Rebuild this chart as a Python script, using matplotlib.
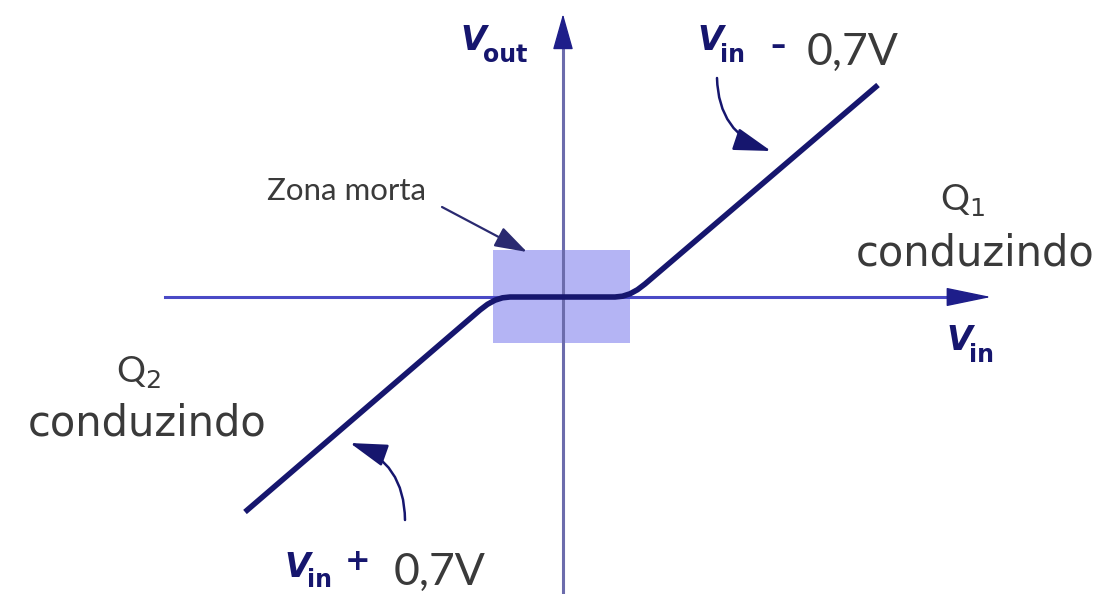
import matplotlib
matplotlib.use("Agg")
import matplotlib.pyplot as plt
from matplotlib.patches import Rectangle, FancyArrowPatch

# ---- data (transfer characteristic, origin at the axes crossing) ----
vin_curve = [-318, -83, -75.5, -68, -60.5, -53, 52, 59.5, 67, 74.5, 82, 315]
vout_curve = [-215, -13, -7.3, -3.2, -0.8, 0, 0, 0.8, 3.2, 7.3, 13, 212]
dead_zone_x = [-70, 67]
dead_zone_y = [-46, 47]

gray_labels = ["Zona morta", "Q$_1$", "conduzindo", "Q$_2$", "conduzindo", "0,7V", "0,7V"]

NAVY = "#16166e"
HEAD = "#1e1e8a"
TXT = "#3a3a3a"
W, H = 1112, 594
OX, OY = 563, 297


def P(px, py):
    return px - OX, OY - py


fig = plt.figure(figsize=(W / 100, H / 100), dpi=100)
ax = fig.add_axes([0, 0, 1, 1])
ax.set_xlim(-OX, W - OX)
ax.set_ylim(OY - H, OY)
ax.axis("off")

# dead zone box
ax.add_patch(Rectangle((dead_zone_x[0], dead_zone_y[0]), dead_zone_x[1] - dead_zone_x[0],
                       dead_zone_y[1] - dead_zone_y[0], facecolor="#b4b4f4",
                       edgecolor="none", zorder=1))

# axes shafts
ax.plot(*zip(P(165, 297), P(955, 297)), color="#4a4ac6", lw=2.2, zorder=2)
ax.plot(*zip(P(563, 594), P(563, 40)), color="#6c6cac", lw=2.2, zorder=2)
# axes heads
ax.annotate("", xy=P(991, 297), xytext=P(950, 297),
            arrowprops=dict(arrowstyle="-|>,head_length=2.9,head_width=0.6",
                            mutation_scale=10, color=HEAD, lw=1.0,
                            shrinkA=0, shrinkB=0), zorder=3)
ax.annotate("", xy=P(563, 14), xytext=P(563, 48),
            arrowprops=dict(arrowstyle="-|>,head_length=2.3,head_width=0.65",
                            mutation_scale=10, color=HEAD, lw=1.0,
                            shrinkA=0, shrinkB=0), zorder=3)

# transfer curve
ax.plot(vin_curve, vout_curve, color=NAVY, lw=4.0, solid_capstyle="butt",
        solid_joinstyle="round", zorder=4)

# pointer arrows
ax.add_patch(FancyArrowPatch(P(442, 207), P(527, 252),
                             arrowstyle="-|>,head_length=2.0,head_width=0.65",
                             mutation_scale=10, color="#2a2a70", lw=1.6,
                             shrinkA=0, shrinkB=0, zorder=5))
ax.add_patch(FancyArrowPatch(P(717, 78), P(771, 151),
                             connectionstyle="arc3,rad=0.35",
                             arrowstyle="-|>,head_length=2.3,head_width=0.7",
                             mutation_scale=10, color=NAVY, lw=1.8,
                             shrinkA=0, shrinkB=0, zorder=5))
ax.add_patch(FancyArrowPatch(P(405, 520), P(350, 443),
                             connectionstyle="arc3,rad=0.35",
                             arrowstyle="-|>,head_length=2.3,head_width=0.7",
                             mutation_scale=10, color=NAVY, lw=1.8,
                             shrinkA=0, shrinkB=0, zorder=5))

# gray texts
fam = ["Lato", "DejaVu Sans"]
wide = ["DejaVu Sans"]
ax.text(*P(346, 200), gray_labels[0], ha="center", va="baseline", fontsize=22.5,
        family=fam, color=TXT)
ax.text(*P(963, 210), gray_labels[1], ha="center", va="baseline", fontsize=26,
        family=fam, color=TXT)
ax.text(*P(975, 265), gray_labels[2], ha="center", va="baseline", fontsize=30,
        family=wide, color=TXT)
ax.text(*P(138, 382), gray_labels[3], ha="center", va="baseline", fontsize=26,
        family=fam, color=TXT)
ax.text(*P(147, 435), gray_labels[4], ha="center", va="baseline", fontsize=30,
        family=wide, color=TXT)
ax.text(*P(853, 65), gray_labels[5], ha="center", va="baseline", fontsize=32,
        family=fam, color=TXT)
ax.text(*P(440, 585), gray_labels[6], ha="center", va="baseline", fontsize=32,
        family=fam, color=TXT)


def vlabel(px, py, sub, sub_dx=23, sub_dy=12):
    ax.text(*P(px, py), "V", ha="left", va="baseline", fontsize=24,
            family="DejaVu Sans", style="italic", weight="bold", color=NAVY)
    ax.text(*P(px + sub_dx, py + sub_dy), sub, ha="left", va="baseline", fontsize=17,
            family="DejaVu Sans", weight="bold", color=NAVY)


vlabel(460, 50, "out")
vlabel(946, 350, "in")
vlabel(697, 50, "in")
ax.text(*P(778, 46), "–", ha="center", va="center", fontsize=22, color=NAVY,
        weight="bold", family="DejaVu Sans")
vlabel(284, 577, "in", sub_dy=10)
ax.text(*P(358, 561), "+", ha="center", va="center", fontsize=22, color=NAVY,
        weight="bold", family="DejaVu Sans")

fig.savefig("out.png", dpi=100, facecolor="white")
